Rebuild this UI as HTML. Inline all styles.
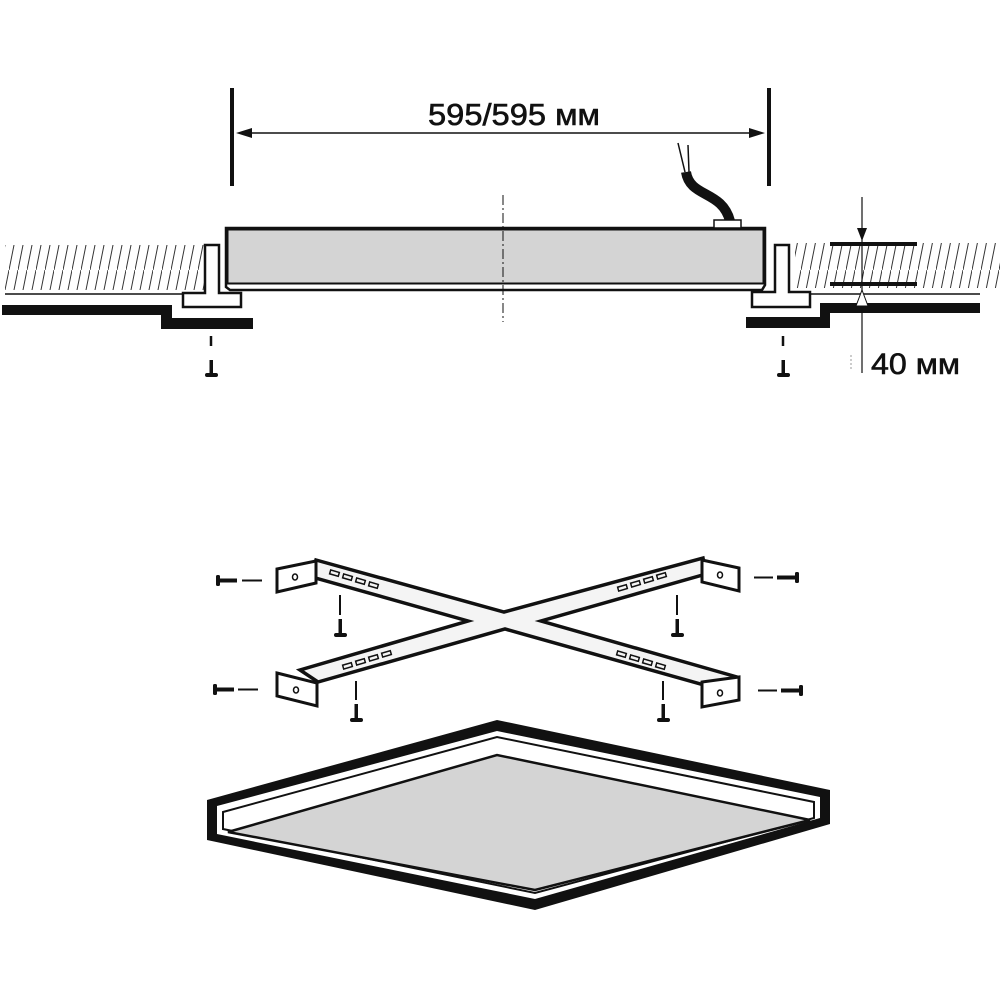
<!DOCTYPE html>
<html><head><meta charset="utf-8"><style>html,body{margin:0;padding:0;background:#fff}</style></head>
<body>
<svg width="1000" height="1000" viewBox="0 0 1000 1000" xmlns="http://www.w3.org/2000/svg">
<defs>
<pattern id="h" width="9" height="45" patternUnits="userSpaceOnUse">
<line x1="0" y1="45" x2="9" y2="0" stroke="#333" stroke-width="1"/>
</pattern>
</defs>
<rect width="1000" height="1000" fill="#fff"/>
<!-- dimension -->
<rect x="230" y="88" width="4" height="98" fill="#111"/>
<rect x="767" y="88" width="4" height="98" fill="#111"/>
<line x1="240" y1="133" x2="755" y2="133" stroke="#111" stroke-width="1.5"/>
<polygon points="236,133 252,128 252,138" fill="#111"/>
<polygon points="765,133 749,128 749,138" fill="#111"/>
<text x="514" y="125" font-family="Liberation Sans, sans-serif" font-size="31" text-anchor="middle" fill="#111" stroke="#111" stroke-width="0.6" textLength="172" lengthAdjust="spacingAndGlyphs">595/595 мм</text>
<!-- hatches -->
<rect x="5" y="245" width="200" height="45" fill="url(#h)"/>
<rect x="795" y="243" width="205" height="45" fill="url(#h)"/>
<line x1="5" y1="294" x2="183" y2="294" stroke="#111" stroke-width="1.5"/>
<line x1="810" y1="294" x2="980" y2="294" stroke="#111" stroke-width="1.5"/>
<!-- black bars -->
<polygon points="2,305 172,305 172,318 253,318 253,329 161,329 161,315 2,315" fill="#111"/>
<polygon points="980,303 820,303 820,317 746,317 746,328 830,328 830,313 980,313" fill="#111"/>
<!-- T brackets -->
<path d="M205,245 H219 V293 H241 V307 H183 V293 H205 Z" fill="#fff" stroke="#111" stroke-width="2.5"/>
<path d="M775,245 H789 V292 H810 V307 H752 V292 H775 Z" fill="#fff" stroke="#111" stroke-width="2.5"/>
<!-- panel -->
<polygon points="226,228 765,228 765,285 762,290 230,290 226,287" fill="#fff" stroke="#111" stroke-width="2.5"/>
<rect x="227.5" y="229.5" width="536" height="54" fill="#d4d4d4" stroke="#111" stroke-width="2"/>
<line x1="503" y1="195" x2="503" y2="322" stroke="#111" stroke-width="1" stroke-dasharray="10,3,2,3"/>
<!-- cable -->
<path d="M686,172 C690,198 722,190 730,221" fill="none" stroke="#111" stroke-width="10"/>
<path d="M685,172 L678,143 M689,172 L688,145" stroke="#111" stroke-width="1.5" fill="none"/>
<rect x="714" y="220" width="27" height="8" fill="#fff" stroke="#111" stroke-width="1.5"/>
<!-- 40mm dimension -->
<rect x="830" y="242" width="87" height="4" fill="#111"/>
<rect x="830" y="282" width="87" height="4" fill="#111"/>
<line x1="862" y1="197" x2="862" y2="373" stroke="#111" stroke-width="1.2"/>
<polygon points="862,241 857,228 867,228" fill="#111"/>
<polygon points="862,290 856,306 868,306" fill="#fff" stroke="#111" stroke-width="1"/>
<line x1="851" y1="355" x2="851" y2="370" stroke="#999" stroke-width="1" stroke-dasharray="2,2"/>
<text x="871" y="374" font-family="Liberation Sans, sans-serif" font-size="30" fill="#111" stroke="#111" stroke-width="0.6" textLength="89" lengthAdjust="spacingAndGlyphs">40 мм</text>
<!-- screws top -->
<g fill="#111" stroke="#111">
<line x1="211" y1="336" x2="211" y2="346" stroke-width="2.5"/>
<rect x="209.5" y="360" width="3.5" height="14" stroke="none"/>
<rect x="205" y="373" width="13" height="4" rx="2" stroke="none"/>
<line x1="783" y1="336" x2="783" y2="346" stroke-width="2.5"/>
<rect x="781.5" y="360" width="3.5" height="14" stroke="none"/>
<rect x="777" y="373" width="13" height="4" rx="2" stroke="none"/>
</g>
<!-- X bracket -->
<polygon points="316,560 504,612 703,558 706,574 541,621 737,677 722,690 505,629 318,682 300,670 468,621 312,577" fill="#f4f4f4" stroke="#111" stroke-width="3.5" stroke-linejoin="miter"/>
<g fill="none" stroke="#111" stroke-width="1.5">
<rect x="330" y="571" width="9" height="4" transform="rotate(16 334 573)"/>
<rect x="343" y="575" width="9" height="4" transform="rotate(16 347 577)"/>
<rect x="356" y="579" width="9" height="4" transform="rotate(16 360 581)"/>
<rect x="369" y="583" width="9" height="4" transform="rotate(16 373 585)"/>
<rect x="343" y="664" width="9" height="4" transform="rotate(-16 347 666)"/>
<rect x="356" y="660" width="9" height="4" transform="rotate(-16 360 662)"/>
<rect x="369" y="656" width="9" height="4" transform="rotate(-16 373 658)"/>
<rect x="382" y="652" width="9" height="4" transform="rotate(-16 386 654)"/>
<rect x="618" y="586" width="9" height="4" transform="rotate(-16 622 588)"/>
<rect x="631" y="582" width="9" height="4" transform="rotate(-16 635 584)"/>
<rect x="644" y="578" width="9" height="4" transform="rotate(-16 648 580)"/>
<rect x="657" y="574" width="9" height="4" transform="rotate(-16 661 576)"/>
<rect x="617" y="652" width="9" height="4" transform="rotate(16 621 654)"/>
<rect x="630" y="656" width="9" height="4" transform="rotate(16 634 658)"/>
<rect x="643" y="660" width="9" height="4" transform="rotate(16 647 662)"/>
<rect x="656" y="664" width="9" height="4" transform="rotate(16 660 666)"/>
</g>
<g fill="#fff" stroke="#111" stroke-width="3">
<polygon points="277,569 316,561 316,583 277,592"/>
<polygon points="277,673 317,683 317,706 277,696"/>
<polygon points="702,560 739,568 739,591 702,582"/>
<polygon points="702,682 739,677 739,700 702,707"/>
</g>
<g fill="none" stroke="#111" stroke-width="1.5">
<ellipse cx="295" cy="577" rx="2.5" ry="3"/>
<ellipse cx="296" cy="690" rx="2.5" ry="3"/>
<ellipse cx="720" cy="575" rx="2.5" ry="3"/>
<ellipse cx="720" cy="693" rx="2.5" ry="3"/>
</g>
<g fill="#111" stroke="#111">
<rect x="216" y="575" width="4" height="11" rx="1.5" stroke="none"/><rect x="219" y="578.5" width="18" height="4" stroke="none"/><line x1="242" y1="580.5" x2="262" y2="580.5" stroke-width="2"/>
<rect x="213" y="684" width="4" height="11" rx="1.5" stroke="none"/><rect x="216" y="687.5" width="18" height="4" stroke="none"/><line x1="238" y1="689.5" x2="258" y2="689.5" stroke-width="2"/>
<rect x="795" y="572" width="4" height="11" rx="1.5" stroke="none"/><rect x="777" y="575.5" width="18" height="4" stroke="none"/><line x1="754" y1="577.5" x2="773" y2="577.5" stroke-width="2"/>
<rect x="799" y="685" width="4" height="11" rx="1.5" stroke="none"/><rect x="781" y="688.5" width="18" height="4" stroke="none"/><line x1="758" y1="690.5" x2="777" y2="690.5" stroke-width="2"/>
<line x1="340" y1="595" x2="340" y2="615" stroke-width="2"/><rect x="338.5" y="619" width="3.5" height="15" stroke="none"/><rect x="334" y="633" width="13" height="4" rx="2" stroke="none"/>
<line x1="677" y1="595" x2="677" y2="615" stroke-width="2"/><rect x="675.5" y="619" width="3.5" height="15" stroke="none"/><rect x="671" y="633" width="13" height="4" rx="2" stroke="none"/>
<line x1="356" y1="681" x2="356" y2="700" stroke-width="2"/><rect x="354.5" y="704" width="3.5" height="15" stroke="none"/><rect x="350" y="718" width="13" height="4" rx="2" stroke="none"/>
<line x1="663" y1="681" x2="663" y2="700" stroke-width="2"/><rect x="661.5" y="704" width="3.5" height="15" stroke="none"/><rect x="657" y="718" width="13" height="4" rx="2" stroke="none"/>
</g>
<!-- bottom panel -->
<polygon points="207,800 497,720 830,790 830,824 535,910 207,840" fill="#111"/>
<polygon points="217,806 497,731 820,797 820,818 535,899 217,834" fill="#fff"/>
<polygon points="223,812 497,737 814,802 814,818 535,893 223,829" fill="#fff" stroke="#111" stroke-width="2"/>
<polygon points="228,832 497,755 810,820 535,890" fill="#d4d4d4" stroke="#111" stroke-width="2.5"/>
</svg>
</body></html>
